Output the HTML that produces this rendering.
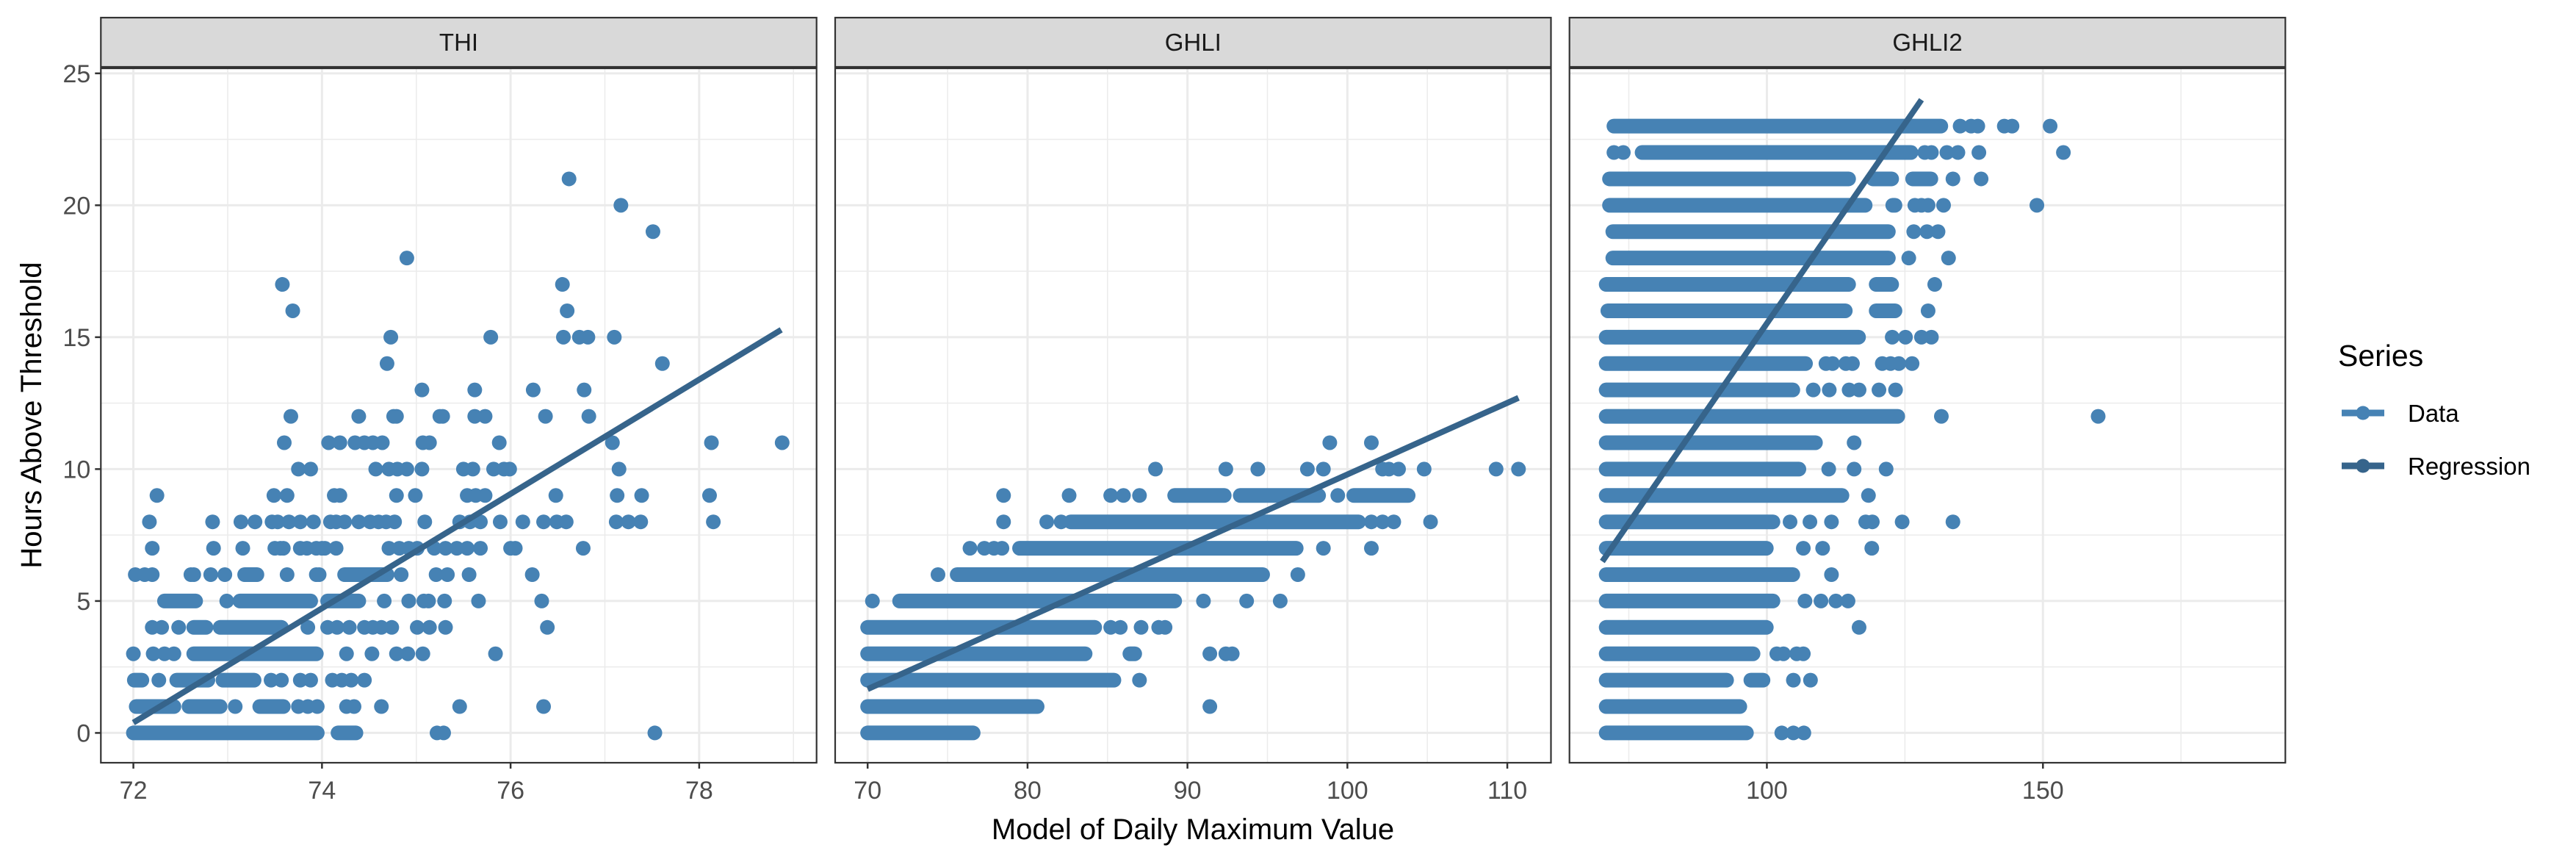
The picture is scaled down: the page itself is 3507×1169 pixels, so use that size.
<!DOCTYPE html>
<html><head><meta charset="utf-8"><style>
html,body{margin:0;padding:0;background:#fff;}
svg{display:block;font-family:"Liberation Sans",Arial,sans-serif;}
</style></head><body>
<svg id="chart" width="3507" height="1169" viewBox="0 0 3507 1169" xmlns="http://www.w3.org/2000/svg">
<rect x="0" y="0" width="3507" height="1169" fill="#fff"/>
<text x="0" y="0" transform="translate(56,565) rotate(-90)" text-anchor="middle" font-size="40" fill="#000">Hours Above Threshold</text>
<text x="1624" y="1142" text-anchor="middle" font-size="40" fill="#000">Model of Daily Maximum Value</text>
<g>
<text x="3183" y="498" font-size="41" fill="#000">Series</text>
<g>
<line x1="3188" y1="562" x2="3246" y2="562" stroke="#4682B4" stroke-width="9"/>
<circle cx="3217" cy="562" r="9.5" fill="#4682B4"/>
<text x="3278" y="574" font-size="33" fill="#000">Data</text></g>
<g>
<line x1="3188" y1="634" x2="3246" y2="634" stroke="#36648B" stroke-width="9"/>
<circle cx="3217" cy="634" r="9.5" fill="#36648B"/>
<text x="3278" y="646" font-size="33" fill="#000">Regression</text></g>
</g>
</svg>
<script>
// ---- data ----
const panelNames = ["THI", "GHLI", "GHLI2"];
const yTicks = [0, 5, 10, 15, 20, 25];
const xTicksTHI = [72, 74, 76, 78];
const xTicksGHLI = [70, 80, 90, 100, 110];
const xTicksGHLI2 = [100, 150];
// isolated points [x, y]
const pointsTHI = [
[76.62,21],[77.17,20],[77.51,19],[74.90,18],[73.58,17],[76.55,17],[73.69,16],[76.60,16],
[74.73,15],[75.79,15],[76.56,15],[76.73,15],[76.82,15],[77.10,15],[74.69,14],[77.61,14],
[75.06,13],[75.62,13],[76.24,13],[76.78,13],
[73.67,12],[74.39,12],[74.76,12],[74.79,12],[75.25,12],[75.28,12],[75.62,12],[75.73,12],[76.37,12],[76.83,12],
[73.60,11],[74.07,11],[74.19,11],[74.35,11],[74.45,11],[74.54,11],[74.64,11],[75.07,11],[75.14,11],[75.88,11],[77.08,11],[78.13,11],[78.88,11],
[73.75,10],[73.88,10],[74.57,10],[74.71,10],[74.80,10],[74.90,10],[75.06,10],[75.50,10],[75.60,10],[75.82,10],[75.93,10],[75.99,10],[77.15,10],
[72.25,9],[73.49,9],[73.63,9],[74.13,9],[74.19,9],[74.79,9],[74.99,9],[75.54,9],[75.63,9],[75.73,9],[76.48,9],[77.13,9],[77.39,9],[78.11,9],
[72.17,8],[72.84,8],[73.14,8],[73.29,8],[73.47,8],[73.53,8],[73.65,8],[73.77,8],[73.91,8],[74.09,8],[74.15,8],[74.24,8],[74.39,8],[74.51,8],[74.60,8],[74.68,8],[74.77,8],[75.09,8],[75.46,8],[75.57,8],[75.68,8],[75.89,8],[76.13,8],[76.35,8],[76.49,8],[76.59,8],[77.12,8],[77.25,8],[77.38,8],[78.15,8],
[72.20,7],[72.85,7],[73.16,7],[73.50,7],[73.56,7],[73.59,7],[73.77,7],[73.84,7],[73.94,7],[74.00,7],[74.03,7],[74.15,7],[74.71,7],[74.82,7],[74.92,7],[75.01,7],[75.19,7],[75.31,7],[75.43,7],[75.54,7],[75.68,7],[76.00,7],[76.05,7],[76.77,7],
[72.02,6],[72.12,6],[72.20,6],[72.61,6],[72.64,6],[72.82,6],[72.97,6],[73.63,6],[73.94,6],[73.97,6],[74.84,6],[75.21,6],[75.33,6],[75.56,6],[76.23,6],
[72.99,5],[74.66,5],[74.92,5],[75.08,5],[75.13,5],[75.30,5],[75.66,5],[76.33,5],
[72.20,4],[72.30,4],[72.48,4],[73.85,4],[74.06,4],[74.16,4],[74.29,4],[74.45,4],[74.54,4],[74.63,4],[74.74,4],[75.01,4],[75.14,4],[75.31,4],[76.39,4],
[72.00,3],[72.21,3],[72.33,3],[72.43,3],[74.26,3],[74.53,3],[74.79,3],[74.91,3],[75.07,3],[75.84,3],
[72.27,2],[73.46,2],[73.57,2],[73.77,2],[73.88,2],[74.11,2],[74.21,2],[74.31,2],[74.45,2],
[73.08,1],[73.75,1],[73.85,1],[73.95,1],[74.26,1],[74.34,1],[74.63,1],[75.46,1],[76.35,1],
[75.22,0],[75.29,0],[77.53,0]
];
// dense runs [y, xStart, xEnd]
const bandsTHI = [
[0,72.0,73.95],[0,74.17,74.36],[1,72.03,72.43],[1,72.59,72.92],[1,73.34,73.59],
[2,72.01,72.09],[2,72.46,72.79],[2,72.95,73.28],[3,72.64,73.94],[4,72.64,72.77],[4,72.92,73.57],
[5,72.33,72.66],[5,73.13,73.88],[5,74.06,74.39],[6,73.18,73.31],[6,74.24,74.69]
];
const pointsGHLI = [
[91.4,1],[87.0,2],[91.4,3],[92.4,3],[92.8,3],[85.2,4],[85.8,4],[87.1,4],[88.2,4],[88.6,4],
[70.3,5],[91.0,5],[93.7,5],[95.8,5],[74.4,6],[96.9,6],
[76.4,7],[77.3,7],[77.9,7],[78.4,7],[98.5,7],[101.5,7],
[78.5,8],[81.2,8],[82.1,8],[101.5,8],[102.2,8],[102.9,8],[105.2,8],
[78.5,9],[82.6,9],[85.2,9],[86.0,9],[87.0,9],[99.4,9],
[88.0,10],[92.4,10],[94.4,10],[97.5,10],[98.5,10],[102.2,10],[102.6,10],[103.2,10],[104.8,10],[109.3,10],[110.7,10],
[98.9,11],[101.5,11]
];
const bandsGHLI = [
[0,70.0,76.6],[1,70.0,80.6],[2,70.0,85.4],[3,70.0,83.6],[3,86.4,86.7],[4,70.0,84.2],
[5,72.0,89.2],[6,75.6,94.7],[7,79.5,96.8],[8,82.7,100.7],[9,89.2,92.3],[9,93.3,98.2],[9,100.4,103.8]
];
const pointsGHLI2 = [
[135.0,23],[137.0,23],[138.2,23],[143.0,23],[144.4,23],[151.3,23],
[72.3,22],[74.0,22],[128.6,22],[129.8,22],[132.6,22],[134.6,22],[138.4,22],[153.7,22],
[133.7,21],[138.8,21],[126.8,20],[128.0,20],[129.2,20],[132.0,20],[148.9,20],
[126.6,19],[129.0,19],[131.0,19],[125.7,18],[132.9,18],[130.4,17],[129.2,16],
[122.7,15],[125.1,15],[128.0,15],[129.8,15],
[110.7,14],[111.9,14],[114.3,14],[115.5,14],[120.9,14],[122.4,14],[123.9,14],[126.3,14],
[108.4,13],[111.3,13],[114.9,13],[116.7,13],[120.3,13],[123.3,13],
[131.6,12],[160.0,12],[115.8,11],[111.2,10],[115.8,10],[121.6,10],[118.4,9],
[104.2,8],[107.8,8],[111.7,8],[117.9,8],[119.1,8],[124.5,8],[133.7,8],
[106.6,7],[110.1,7],[119.0,7],[111.7,6],[106.9,5],[109.8,5],[112.5,5],[114.7,5],[116.7,4],
[101.8,3],[103.0,3],[105.4,3],[106.6,3],[104.8,2],[107.9,2],[102.7,0],[104.8,0],[106.7,0]
];
const bandsGHLI2 = [
[23,72.3,131.5],[22,77.4,126.1],[21,71.5,114.8],[21,119.2,122.6],[21,126.4,129.7],
[20,71.5,117.8],[20,122.8,123.2],[19,72.1,122.0],[18,72.1,122.0],[17,70.9,114.8],[17,119.8,122.6],
[16,71.2,114.2],[16,119.8,123.2],[15,70.9,116.6],[14,70.9,107.0],[13,70.9,104.7],[12,70.9,123.7],
[11,70.9,108.8],[10,70.9,105.8],[9,70.9,113.6],[8,70.9,101.1],[7,70.9,99.9],[6,70.9,104.7],
[5,70.9,101.1],[4,70.9,99.9],[3,70.9,97.5],[2,70.9,92.7],[2,97.1,99.3],[1,70.9,95.1],[0,70.9,96.3]
];
// regression endpoints [x0, y0, x1, y1]
const regTHI = [72.0, 0.39, 78.87, 15.28];
const regGHLI = [70.0, 1.66, 110.7, 12.7];
const regGHLI2 = [70.2, 6.5, 128.0, 24.0];

// ---- layout ----
const NS = "http://www.w3.org/2000/svg";
const svg = document.getElementById("chart");
const panelTop = 93, panelBottom = 1038, stripTop = 24, stripBottom = 91;
const yMin = -1.13, yMax = 25.19;
const panels = [
 {name: panelNames[0], left: 137.3, right: 1111.7, xmin: 71.655, xmax: 79.245, ticks: xTicksTHI, minor: [73,75,77,79], pts: pointsTHI, bands: bandsTHI, reg: regTHI},
 {name: panelNames[1], left: 1137.0, right: 2111.5, xmin: 67.97, xmax: 112.73, ticks: xTicksGHLI, minor: [75,85,95,105], pts: pointsGHLI, bands: bandsGHLI, reg: regGHLI},
 {name: panelNames[2], left: 2136.7, right: 3111.3, xmin: 64.25, xmax: 193.9, ticks: xTicksGHLI2, minor: [75,125,175], pts: pointsGHLI2, bands: bandsGHLI2, reg: regGHLI2}
];
function yScale(v){ return panelBottom - (v - yMin) / (yMax - yMin) * (panelBottom - panelTop); }
function mk(tag, attrs, parent){
  const e = document.createElementNS(NS, tag);
  for (const k in attrs) e.setAttribute(k, attrs[k]);
  (parent || svg).appendChild(e);
  return e;
}
const yMinor = [2.5, 7.5, 12.5, 17.5, 22.5];
panels.forEach((p, i) => {
  const xScale = v => p.left + (v - p.xmin) / (p.xmax - p.xmin) * (p.right - p.left);
  const g = mk("g", {});
  
  
  // grid
  yMinor.forEach(v => mk("line", {x1: p.left, x2: p.right, y1: yScale(v), y2: yScale(v), stroke: "#EBEBEB", "stroke-width": 1.5}, g));
  p.minor.forEach(v => { if (v > p.xmin && v < p.xmax) mk("line", {x1: xScale(v), x2: xScale(v), y1: panelTop, y2: panelBottom, stroke: "#EBEBEB", "stroke-width": 1.5}, g); });
  yTicks.forEach(v => mk("line", {x1: p.left, x2: p.right, y1: yScale(v), y2: yScale(v), stroke: "#EBEBEB", "stroke-width": 3}, g));
  p.ticks.forEach(v => mk("line", {x1: xScale(v), x2: xScale(v), y1: panelTop, y2: panelBottom, stroke: "#EBEBEB", "stroke-width": 3}, g));
  // data bands
  p.bands.forEach(b => {
    const l = mk("line", {x1: xScale(b[1]), x2: xScale(b[2]), y1: yScale(b[0]), y2: yScale(b[0]), stroke: "#4682B4", "stroke-width": 20, "stroke-linecap": "round"}, g);
    
    
  });
  p.pts.forEach(pt => {
    const c = mk("circle", {cx: xScale(pt[0]), cy: yScale(pt[1]), r: 10, fill: "#4682B4"}, g);
    
    
  });
  // regression
  const rl = mk("line", {x1: xScale(p.reg[0]), y1: yScale(p.reg[1]), x2: xScale(p.reg[2]), y2: yScale(p.reg[3]), stroke: "#36648B", "stroke-width": 8}, g);
  
  
  // border
  mk("rect", {x: p.left, y: panelTop, width: p.right - p.left, height: panelBottom - panelTop, fill: "none", stroke: "#333333", "stroke-width": 2.2}, g);
  // strip
  const st = mk("rect", {x: p.left, y: stripTop, width: p.right - p.left, height: stripBottom - stripTop, fill: "#D9D9D9", stroke: "#333333", "stroke-width": 2.2}, g);
  
  
  const stx = mk("text", {x: (p.left + p.right) / 2, y: 69, "text-anchor": "middle", "font-size": 33, fill: "#1A1A1A"}, g);
  stx.textContent = p.name;
  
  
  // x ticks
  p.ticks.forEach((v, k) => {
    mk("line", {x1: xScale(v), x2: xScale(v), y1: panelBottom, y2: panelBottom + 8, stroke: "#333333", "stroke-width": 2.5}, g);
    const t = mk("text", {x: xScale(v), y: 1087, "text-anchor": "middle", "font-size": 34, fill: "#4D4D4D"}, g);
    t.textContent = String(p.ticks[k]);
    
    
  });
  // y ticks on first panel
  if (i === 0) {
    yTicks.forEach(v => {
      mk("line", {x1: p.left - 8, x2: p.left, y1: yScale(v), y2: yScale(v), stroke: "#333333", "stroke-width": 2.5}, g);
      const t = mk("text", {x: p.left - 14, y: yScale(v) + 12, "text-anchor": "end", "font-size": 34, fill: "#4D4D4D"}, g);
      t.textContent = String(v);
      
      
    });
  }
});
</script>
</body></html>
